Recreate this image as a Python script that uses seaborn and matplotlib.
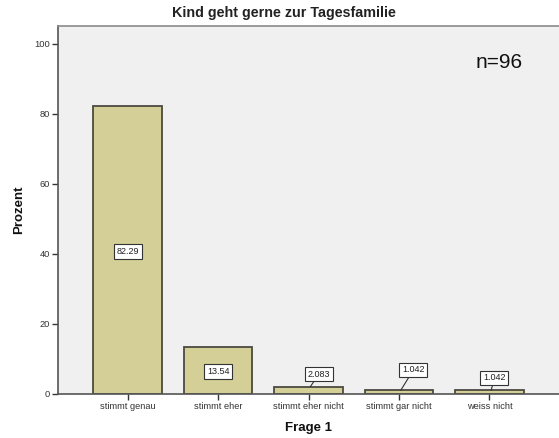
import matplotlib
matplotlib.use("Agg")
import matplotlib.pyplot as plt
import seaborn as sns
import pandas as pd

categories = ["stimmt genau", "stimmt eher", "stimmt eher nicht", "stimmt gar nicht", "weiss nicht"]
values = [82.29, 13.54, 2.083, 1.042, 1.042]
value_labels = ["82.29", "13.54", "2.083", "1.042", "1.042"]
y_ticks = [0, 20, 40, 60, 80, 100]

sns.set_theme(style="white")
plt.rcParams['font.family'] = ['Liberation Sans', 'DejaVu Sans']

fig = plt.figure(figsize=(5.59, 4.38), dpi=100)
ax = fig.add_axes([0.1038, 0.1005, 0.8962, 0.840])
ax.set_facecolor("#F0F0F0")

df = pd.DataFrame({"cat": categories, "val": values})
sns.barplot(data=df, x="cat", y="val", color="#D3CF96", width=0.76,
            edgecolor="#4a4a40", linewidth=1.3, saturation=1, ax=ax, zorder=2)

ax.set_ylim(0, 105.1)
ax.set_xlim(-0.77, 4.77)
ax.set_yticks(y_ticks)
ax.set_yticklabels([str(t) for t in y_ticks])
ax.tick_params(axis="both", direction="out", length=4.5, width=1, colors="#333333",
               labelsize=6.7, pad=1.5, bottom=True, left=True)
ax.set_xlabel("Frage 1", fontsize=9.5, fontweight="bold", labelpad=8, color="#111111")
ax.set_ylabel("Prozent", fontsize=9.5, fontweight="bold", labelpad=6, color="#111111")

for s in ["left", "bottom"]:
    ax.spines[s].set_color("#555555")
    ax.spines[s].set_linewidth(1.2)
ax.spines["top"].set_color("#8a8a8a")
ax.spines["top"].set_linewidth(1.2)
ax.spines["right"].set_visible(False)

bbox = dict(boxstyle="square,pad=0.3", fc="white", ec="#333333", lw=0.8)
# label positions: (x offset in category units, label y value); None = centred in bar
offsets = [(0, None), (0, None), (0.116, 5.7), (0.16, 6.9), (0.055, 4.6)]
for i, (v, lab) in enumerate(zip(values, value_labels)):
    dx, ly = offsets[i]
    if ly is None:
        ax.text(i, v / 2 - 0.4, lab, ha="center", va="center", fontsize=6.5,
                color="#222222", bbox=bbox, zorder=5)
    else:
        ax.annotate(lab, xy=(i + 0.02, v), xytext=(i + dx, ly), ha="center", va="center",
                    fontsize=6.5, color="#222222", bbox=bbox, zorder=5,
                    arrowprops=dict(arrowstyle="-", color="#333333", lw=0.8,
                                    shrinkA=0, shrinkB=0))

fig.text(283.5 / 559, 1 - 13 / 438, "Kind geht gerne zur Tagesfamilie", ha="center", va="center",
         fontsize=10.3, fontweight="bold", color="#222222")
ax.text(0.880, 0.90, "n=96", transform=ax.transAxes, ha="center", va="center",
        fontsize=15, color="#111111")

fig.savefig("out.png", dpi=100)
